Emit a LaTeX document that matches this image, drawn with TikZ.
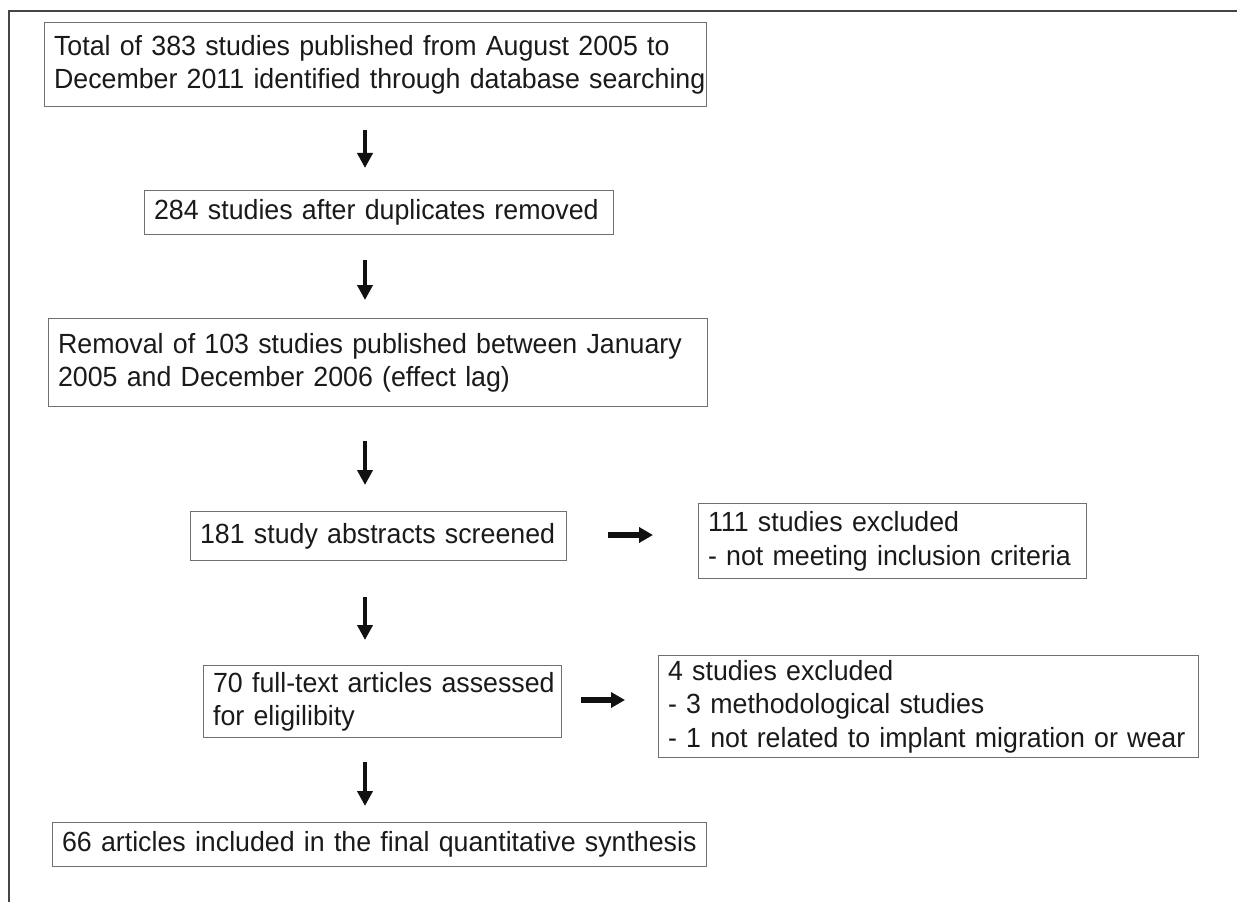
\documentclass[tikz,border=0pt]{standalone}
\usepackage{fontspec}
\setmainfont{Liberation Sans}[FakeStretch=0.965]
\usetikzlibrary{arrows.meta}
\definecolor{txt}{HTML}{1A1A1A}
\definecolor{boxgray}{HTML}{707070}
\definecolor{framegray}{HTML}{454545}
\definecolor{arrowc}{HTML}{111111}
\tikzset{
  fbox/.style={draw=boxgray, line width=1.1pt, rectangle, anchor=north west,
    inner xsep=7pt, inner ysep=0pt, align=left, text=txt,
    font=\fontsize{20.8pt}{25pt}\selectfont},
  darr/.style={draw=arrowc, line width=3.2pt, -{Triangle[length=11.25pt,width=11.25pt]}},
  rarr/.style={draw=arrowc, line width=3.9pt, -{Triangle[length=10.5pt,width=11.25pt]}},
  frameline/.style={draw=framegray, line width=1.6pt}
}
\begin{document}
\begin{tikzpicture}[x=0.75pt,y=-0.75pt]
\useasboundingbox (0,0) rectangle (1237,902);
% outer frame (top and left edges visible)
\coordinate (fl) at (9,902);
\coordinate (ftl) at (9,11);
\coordinate (fr) at (1237,11);
\draw[frameline] (fl) -- (ftl) -- (fr);

\node[fbox, text width=482.25pt, minimum height=63pt] (b1) at (44,22)
  {\mbox{Total of 383 studies published from August 2005 to}\\\mbox{December 2011 identified through database searching}};
\node[fbox, text width=337.5pt, minimum height=33pt] (b2) at (144,190)
  {\mbox{284 studies after duplicates removed}};
\node[fbox, text width=480pt, minimum height=66pt] (b3) at (48,318)
  {\mbox{Removal of 103 studies published between January}\\\mbox{2005 and December 2006 (effect lag)}};
\node[fbox, text width=267.75pt, minimum height=36.75pt] (b4) at (190,511)
  {\mbox{181 study abstracts screened}};
\node[fbox, text width=276.75pt, minimum height=56.25pt] (b5) at (698,503)
  {\mbox{111 studies excluded}\\\mbox{- not meeting inclusion criteria}};
\node[fbox, text width=254.25pt, minimum height=54pt] (b6) at (203,665)
  {\mbox{70 full-text articles assessed}\\\mbox{for eligilibity}};
\node[fbox, text width=390.75pt, minimum height=76.5pt] (b7) at (658,655)
  {\mbox{4 studies excluded}\\\mbox{- 3 methodological studies}\\\mbox{- 1 not related to implant migration or wear}};
\node[fbox, text width=476.25pt, minimum height=33pt] (b8) at (52,822)
  {\mbox{66 articles included in the final quantitative synthesis}};

% arrow end points
\coordinate (a1s) at (365,130); \coordinate (a1e) at (365,168);
\coordinate (a2s) at (365,260); \coordinate (a2e) at (365,300);
\coordinate (a3s) at (365,441); \coordinate (a3e) at (365,485);
\coordinate (a4s) at (365,597); \coordinate (a4e) at (365,640);
\coordinate (a5s) at (365,762); \coordinate (a5e) at (365,806);
\coordinate (r1s) at (608,535); \coordinate (r1e) at (653,535);
\coordinate (r2s) at (581,700); \coordinate (r2e) at (625,700);

\draw[darr] (a1s) -- (a1e);
\draw[darr] (a2s) -- (a2e);
\draw[darr] (a3s) -- (a3e);
\draw[darr] (a4s) -- (a4e);
\draw[darr] (a5s) -- (a5e);
\draw[rarr] (r1s) -- (r1e);
\draw[rarr] (r2s) -- (r2e);
\end{tikzpicture}
\end{document}
